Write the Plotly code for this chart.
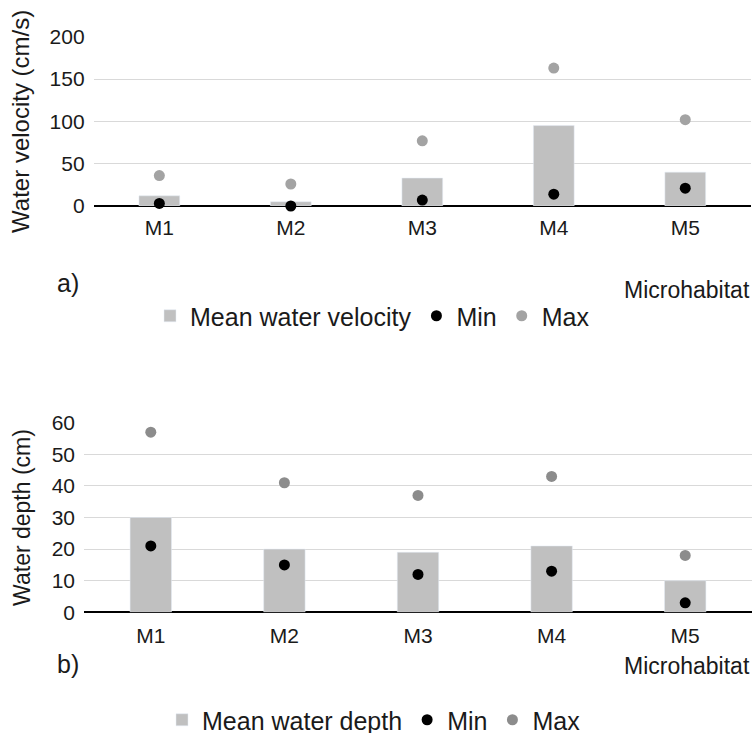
import plotly.graph_objects as go

categories = ["M1", "M2", "M3", "M4", "M5"]

vel_mean = [12, 5, 33, 95, 40]
vel_min = [3, 0, 7, 14, 21]
vel_max = [36, 26, 77, 163, 102]

dep_mean = [30, 20, 19, 21, 10]
dep_min = [21, 15, 12, 13, 3]
dep_max = [57, 41, 37, 43, 18]

vel_ticks = [0, 50, 100, 150, 200]
dep_ticks = [0, 10, 20, 30, 40, 50, 60]

W, H = 753, 733
FONT = "Arial, Liberation Sans, sans-serif"
TXT = "#1a1a1a"
BAR = "#c0c0c0"
MINC = "#000000"
MAXC_A = "#a3a3a3"
MAXC_B = "#8c8c8c"

def py(p):
    return 1 - p / H

fig = go.Figure()

# Top chart
fig.add_trace(go.Bar(x=categories, y=vel_mean, name="Mean water velocity", marker_color=BAR,
                     xaxis="x", yaxis="y", legend="legend"))
fig.add_trace(go.Scatter(x=categories, y=vel_min, name="Min", mode="markers",
                         marker=dict(color=MINC, size=11), xaxis="x", yaxis="y", legend="legend", cliponaxis=False))
fig.add_trace(go.Scatter(x=categories, y=vel_max, name="Max", mode="markers",
                         marker=dict(color=MAXC_A, size=11), xaxis="x", yaxis="y", legend="legend", cliponaxis=False))

# Bottom chart
fig.add_trace(go.Bar(x=categories, y=dep_mean, name="Mean water depth", marker_color=BAR,
                     xaxis="x2", yaxis="y2", legend="legend2"))
fig.add_trace(go.Scatter(x=categories, y=dep_min, name="Min", mode="markers",
                         marker=dict(color=MINC, size=11), xaxis="x2", yaxis="y2", legend="legend2", cliponaxis=False))
fig.add_trace(go.Scatter(x=categories, y=dep_max, name="Max", mode="markers",
                         marker=dict(color=MAXC_B, size=11), xaxis="x2", yaxis="y2", legend="legend2", cliponaxis=False))

axis_common = dict(showgrid=False, zeroline=False, showline=False, ticks="", automargin=False,
                   tickfont=dict(family=FONT, size=21, color=TXT))
yaxis_common = dict(showgrid=True, gridcolor="#d9d9d9", gridwidth=1, zeroline=True, automargin=False,
                    zerolinecolor="#000000", zerolinewidth=2, showline=False, ticks="",
                    tickfont=dict(family=FONT, size=21, color=TXT), ticklabelstandoff=8)

title_font = dict(family=FONT, size=23, color=TXT)
leg_font = dict(family=FONT, size=25, color=TXT)
small_font = dict(family=FONT, size=23, color=TXT)
lab_font = dict(family=FONT, size=25, color=TXT)

fig.update_layout(
    width=W, height=H,
    margin=dict(l=0, r=0, t=0, b=0, autoexpand=False),
    paper_bgcolor="white", plot_bgcolor="white",
    bargap=0.69,
    showlegend=True,
    font=dict(family=FONT, color=TXT),
    xaxis=dict(domain=[93.6 / W, 751 / W], anchor="y", ticklabelstandoff=7, **axis_common),
    yaxis=dict(domain=[py(206), py(36.7)], range=[0, 200], tickvals=vel_ticks, anchor="x",
               title=dict(text="Water velocity (cm/s)", font=dict(family=FONT, size=24, color=TXT), standoff=13),
               **yaxis_common),
    xaxis2=dict(domain=[84 / W, 752 / W], anchor="y2", ticklabelstandoff=9, **axis_common),
    yaxis2=dict(domain=[py(612.3), py(422.7)], range=[0, 60], tickvals=dep_ticks, anchor="x2",
                title=dict(text="Water depth (cm)", font=title_font, standoff=14),
                **yaxis_common),
    legend=dict(orientation="h", x=150 / W, xanchor="left", y=py(316), yanchor="middle",
                font=leg_font, bgcolor="rgba(0,0,0,0)", itemwidth=30),
    legend2=dict(orientation="h", x=162 / W, xanchor="left", y=py(720), yanchor="middle",
                 font=leg_font, bgcolor="rgba(0,0,0,0)", itemwidth=30),
    annotations=[
        dict(text="a)", x=55 / W, y=py(283), xref="paper", yref="paper", showarrow=False,
             xanchor="left", yanchor="middle", font=lab_font),
        dict(text="Microhabitat", x=752 / W, y=py(290), xref="paper", yref="paper", showarrow=False,
             xanchor="right", yanchor="middle", font=small_font),
        dict(text="b)", x=55 / W, y=py(664), xref="paper", yref="paper", showarrow=False,
             xanchor="left", yanchor="middle", font=lab_font),
        dict(text="Microhabitat", x=752 / W, y=py(666), xref="paper", yref="paper", showarrow=False,
             xanchor="right", yanchor="middle", font=small_font),
    ],
)

fig.write_html("out.html", config={"displayModeBar": False},
               post_script="document.body.style.margin='0';")
